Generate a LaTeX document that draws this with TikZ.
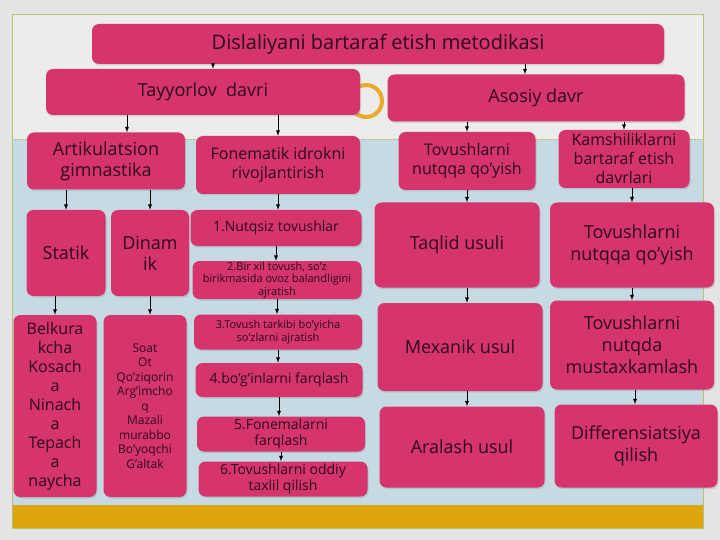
\documentclass[tikz,border=0pt]{standalone}
\usepackage{fontspec}
\setmainfont{Open Sans}
\usetikzlibrary{shadows}

\definecolor{BoxColor}{RGB}{213,52,108}
\definecolor{TextColor}{RGB}{45,10,26}
\definecolor{PageGray}{RGB}{228,228,228}
\definecolor{TopGray}{RGB}{236,236,236}
\definecolor{SlideBlue}{RGB}{198,218,227}
\definecolor{BarYellow}{RGB}{220,166,12}
\definecolor{FrameOlive}{RGB}{190,190,120}
\definecolor{RingOrange}{RGB}{232,170,40}

\tikzstyle{base}=[rectangle,
                    rounded corners=7pt,
                    fill=BoxColor,
                    text=TextColor,
                    inner sep=1pt,
                    align=center,
                    drop shadow={opacity=0.25,shadow xshift=1pt,shadow yshift=-1.5pt}]
\tikzstyle{huge}=[base, font=\fontsize{20}{23}\selectfont]
\tikzstyle{large}=[base, font=\fontsize{18}{22}\selectfont]
\tikzstyle{medium}=[base, font=\fontsize{16}{19}\selectfont]
\tikzstyle{normal}=[base, font=\fontsize{14}{16}\selectfont]
\tikzstyle{small}=[base, font=\fontsize{11}{12.5}\selectfont]
\tikzstyle{tiny}=[base, font=\fontsize{12}{14.5}\selectfont]

\begin{document}
\begin{tikzpicture}[x=1pt, y=-1pt]
    \useasboundingbox (0,0) rectangle (720,540);

    % slide background
    \fill[PageGray]  (0,0)     rectangle (720,540);
    \fill[TopGray]   (12,14)   rectangle (703,139);
    \fill[SlideBlue] (12,139)  rectangle (703,505);
    \fill[BarYellow] (12,505)  rectangle (703,528);
    \draw[FrameOlive, densely dotted] (12,139) -- (703,139);
    \draw[FrameOlive, thin] (12,14) rectangle (703,528);
    \draw[RingOrange, line width=4pt] (366,101) circle (16);

    \node at (378,  44) (title)  [huge,   minimum width=572pt, minimum height=40pt] {Dislaliyani bartaraf etish metodikasi};
    \node at (203,  92) (tayyor) [large,  minimum width=314pt, minimum height=46pt] {Tayyorlov\ \ davri};
    \node at (536,  98) (asosiy) [large,  minimum width=297pt, minimum height=47pt] {Asosiy davr};

    % Tayyorlov davri
    \node at (106, 161) (artik)  [large,  minimum width=158pt, minimum height=57pt, font=\fontsize{18}{21}\selectfont] {Artikulatsion\\gimnastika};
    \node at (278, 165) (fonem)  [medium, minimum width=164pt, minimum height=58pt] {Fonematik idrokni\\rivojlantirish};
    \node at (66,  253) (statik) [large,  minimum width=79pt,  minimum height=86pt] {Statik};
    \node at (150, 253) (dinam)  [large,  minimum width=78pt,  minimum height=86pt, font=\fontsize{18}{21}\selectfont] {Dinam\\ik};
    \node at (55,  406) (belk)   [medium, minimum width=83pt,  minimum height=182pt] {Belkura\\kcha\\Kosach\\a\\Ninach\\a\\Tepach\\a\\naycha};
    \node at (145, 406) (soat)   [tiny,   minimum width=83pt,  minimum height=182pt] {Soat\\Ot\\Qo'ziqorin\\Arg'imcho\\q\\Mazali\\murabbo\\Bo'yoqchi\\G'altak};
    \node at (276, 228) (nutq1)  [normal, minimum width=171pt, minimum height=36pt] {1.Nutqsiz tovushlar};
    \node at (277, 280) (nutq2)  [small,  minimum width=169pt, minimum height=36pt] {2.Bir xil tovush, so'z\\birikmasida ovoz balandligini\\ajratish};
    \node at (278, 332) (nutq3)  [small,  minimum width=168pt, minimum height=35pt, font=\fontsize{11}{13.5}\selectfont] {3.Tovush tarkibi bo'yicha\\so'zlarni ajratish};
    \node at (279, 380) (nutq4)  [normal, minimum width=167pt, minimum height=34pt] {4.bo'g'inlarni farqlash};
    \node at (281, 434) (nutq5)  [normal, minimum width=168pt, minimum height=35pt] {5.Fonemalarni\\farqlash};
    \node at (283, 479) (nutq6)  [normal, minimum width=169pt, minimum height=35pt] {6.Tovushlarni oddiy\\taxlil qilish};

    % Asosiy davr
    \node at (467, 161) (qoyish) [medium, minimum width=137pt, minimum height=58pt] {Tovushlarni\\nutqqa qo'yish};
    \node at (624, 159) (kamsh)  [medium, minimum width=131pt, minimum height=58pt] {Kamshiliklarni\\bartaraf etish\\davrlari};
    \node at (457, 245) (taqlid) [large,  minimum width=165pt, minimum height=85pt] {Taqlid usuli};
    \node at (460, 347) (mexan)  [large,  minimum width=165pt, minimum height=88pt] {Mexanik usul};
    \node at (462, 447) (aral)   [large,  minimum width=165pt, minimum height=81pt] {Aralash usul};
    \node at (632, 245) (qoyish2)[large,  minimum width=164pt, minimum height=85pt] {Tovushlarni\\nutqqa qo'yish};
    \node at (632, 345) (mustax) [large,  minimum width=164pt, minimum height=89pt] {Tovushlarni\\nutqda\\mustaxkamlash};
    \node at (636, 446) (diff)   [large,  minimum width=163pt, minimum height=83pt] {Differensiatsiya\\qilish};

    \begin{scope}[line width=0.9pt, -latex]
      \draw ([xshift=10pt]tayyor.north |- title.south) -- ([xshift=10pt]tayyor.north);
      \draw ([xshift=-11pt]asosiy.north |- title.south) -- ([xshift=-11pt]asosiy.north);
      \draw ([xshift=21pt]artik.north |- tayyor.south) -- ([xshift=21pt]artik.north);
      \draw (fonem.north |- tayyor.south)    -- (fonem.north);
      \draw (qoyish.north |- asosiy.south)   -- (qoyish.north);
      \draw (kamsh.north |- asosiy.south)    -- (kamsh.north);
      \draw (statik.north |- artik.south)    -- (statik.north);
      \draw (dinam.north |- artik.south)     -- (dinam.north);
      \draw (statik.south -| belk.north)     -- (belk.north);
      \draw (dinam.south)                    -- (dinam.south |- soat.north);
      \draw (fonem.south)                    -- (fonem.south |- nutq1.north);
      \draw (nutq1.south)                    -- (nutq1.south |- nutq2.north);
      \draw (nutq2.south)                    -- (nutq2.south |- nutq3.north);
      \draw (nutq3.south)                    -- (nutq3.south |- nutq4.north);
      \draw (nutq4.south)                    -- (nutq4.south |- nutq5.north);
      \draw (nutq5.south)                    -- (nutq5.south |- nutq6.north);
      \draw (qoyish.south)                   -- (qoyish.south |- taqlid.north);
      \draw (qoyish.south |- taqlid.south)   -- (qoyish.south |- mexan.north);
      \draw (qoyish.south |- mexan.south)    -- (qoyish.south |- aral.north);
      \draw (qoyish2.north |- kamsh.south)   -- (qoyish2.north);
      \draw (qoyish2.south)                  -- (qoyish2.south |- mustax.north);
      \draw ([xshift=3pt]mustax.south)       -- ([xshift=3pt]mustax.south |- diff.north);
    \end{scope}
\end{tikzpicture}
\end{document}
